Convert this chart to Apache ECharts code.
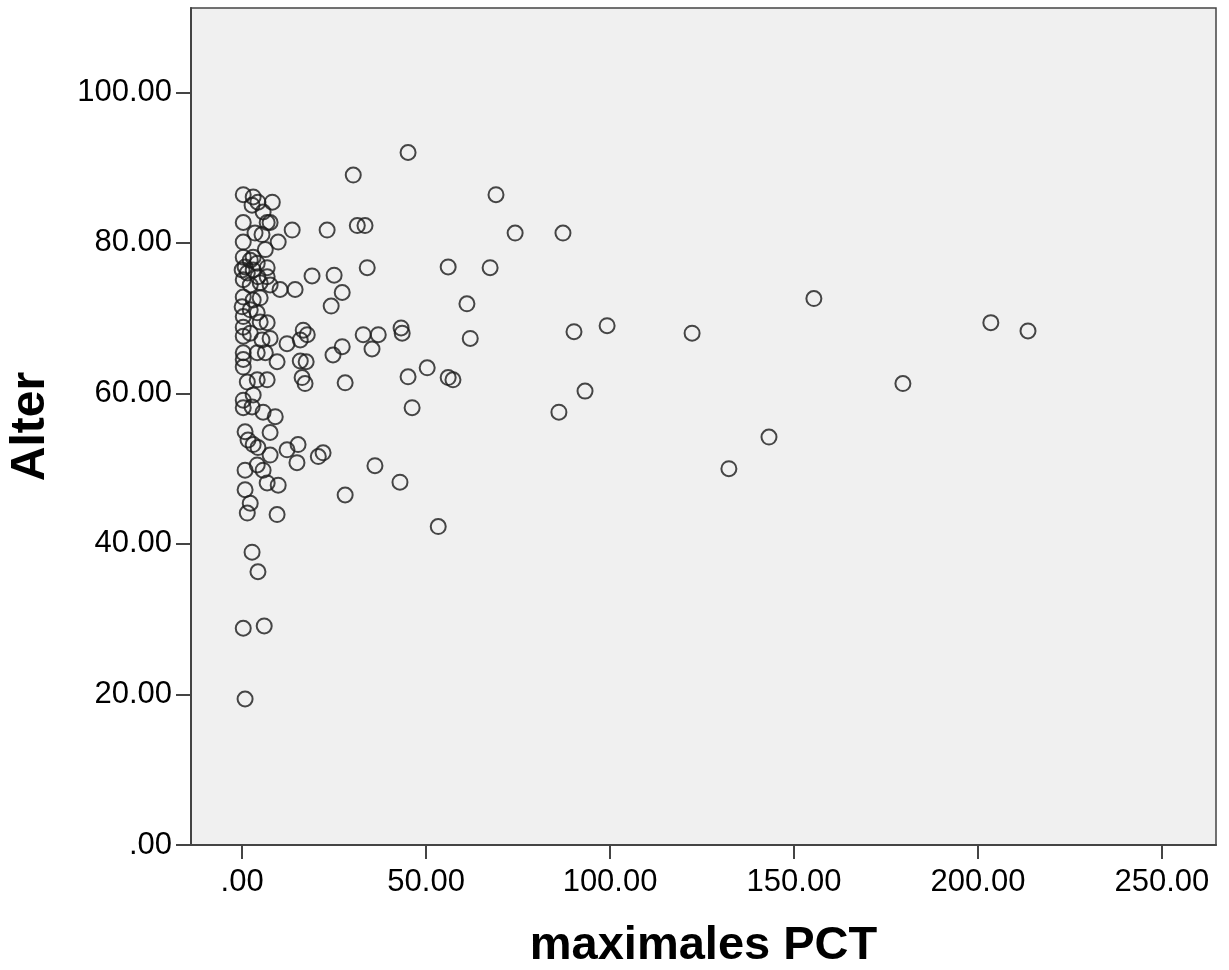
<!DOCTYPE html>
<html>
<head>
<meta charset="utf-8">
<script src="https://cdn.jsdelivr.net/npm/echarts@6/dist/echarts.min.js"></script>
<style>html,body{margin:0;padding:0;background:#fff;}#c{width:1229px;height:970px;}</style>
</head>
<body>
<div id="c"></div>
<script>
// maximales PCT (x) and Alter (y)
const pctValues = [
  0.3,3.0,4.3,2.7,8.2,5.7,0.3,6.8,7.6,13.6,3.5,5.4,0.3,9.8,6.3,0.3,3.0,2.2,0.8,4.1,
  6.8,0.0,1.4,3.0,4.3,19.0,6.8,0.3,2.2,4.9,10.3,14.4,7.6,0.3,3.0,4.9,0.0,2.2,4.1,0.3,
  4.9,6.8,0.3,16.6,17.7,15.8,2.2,5.4,7.6,0.3,12.2,0.3,0.3,0.3,4.1,6.3,9.5,15.8,17.4,1.4,
  4.1,6.8,16.3,17.1,3.0,0.3,0.3,2.7,5.7,9.0,7.6,0.8,1.6,3.0,4.3,7.6,12.2,15.2,14.9,0.8,
  4.1,5.7,6.8,9.8,0.8,2.2,1.4,9.5,2.7,4.3,0.3,6.0,0.8,
  45.1,30.2,31.3,33.4,23.1,34.0,56.0,67.4,25.0,27.2,24.2,61.1,32.9,37.0,43.2,43.5,62.0,27.2,24.7,35.3,
  28.0,45.1,50.3,56.0,57.3,46.2,22.0,20.7,36.1,42.9,28.0,53.3,
  69.0,74.2,87.2,90.2,99.2,122.3,155.4,203.5,213.6,179.6,93.2,86.1,143.2,132.3
];
const alterValues = [
  86.4,86.1,85.4,85.0,85.4,84.1,82.7,82.7,82.7,81.7,81.3,81.1,80.1,80.1,79.1,78.1,78.1,77.7,76.8,77.3,
  76.7,76.4,76.0,76.4,75.5,75.6,75.5,75.1,74.4,74.7,73.8,73.8,74.4,72.8,72.4,72.7,71.5,71.1,70.7,70.2,
  69.5,69.4,68.8,68.4,67.8,67.1,68.0,67.1,67.3,67.6,66.6,65.4,64.5,63.5,65.4,65.4,64.2,64.3,64.2,61.5,
  61.8,61.8,62.1,61.3,59.8,59.1,58.1,58.2,57.5,56.9,54.8,54.9,53.8,53.2,52.8,51.8,52.5,53.2,50.8,49.8,
  50.5,49.8,48.1,47.8,47.2,45.4,44.1,43.9,38.9,36.3,28.8,29.1,19.4,
  92.0,89.0,82.3,82.3,81.7,76.7,76.8,76.7,75.7,73.4,71.6,71.9,67.8,67.8,68.7,68.0,67.3,66.2,65.1,65.9,
  61.4,62.2,63.4,62.1,61.8,58.1,52.1,51.6,50.4,48.2,46.5,42.3,
  86.4,81.3,81.3,68.2,69.0,68.0,72.6,69.4,68.3,61.3,60.3,57.5,54.2,50.0
];
const xTicks = [0, 50, 100, 150, 200, 250];
const yTicks = [0, 20, 40, 60, 80, 100];
const xName = 'maximales PCT';
const yName = 'Alter';

const points = pctValues.map((v, i) => [v, alterValues[i]]);
const fmt = v => {
  const s = Number(v).toFixed(2);
  return s.startsWith('0.') ? s.slice(1) : s;
};
const chart = echarts.init(document.getElementById('c'), null, {renderer: 'canvas'});
const font = '"Liberation Sans", Arial, sans-serif';
chart.setOption({
  animation: false,
  backgroundColor: '#ffffff',
  grid: {
    left: 191, right: 13, top: 8, bottom: 125,
    containLabel: false, outerBoundsMode: 'none',
    show: true, backgroundColor: '#f0f0f0', borderColor: '#444', borderWidth: 1.5
  },
  xAxis: {
    type: 'value', min: -13.9, max: 264.7,
    name: xName, nameLocation: 'middle', nameGap: 78,
    nameTextStyle: {fontFamily: font, fontWeight: 'bold', fontSize: 47, color: '#000'},
    axisLine: {show: true, onZero: false, lineStyle: {color: '#444', width: 2}},
    axisTick: {show: true, customValues: xTicks, length: 14, inside: false, lineStyle: {color: '#444', width: 2}},
    axisLabel: {customValues: xTicks, formatter: fmt, margin: 22, fontFamily: font, fontSize: 31, color: '#000'},
    splitLine: {show: false}
  },
  yAxis: {
    type: 'value', min: 0, max: 111.2,
    name: yName, nameLocation: 'middle', nameGap: 136, nameRotate: 90,
    nameTextStyle: {fontFamily: font, fontWeight: 'bold', fontSize: 48, color: '#000'},
    axisLine: {show: true, onZero: false, lineStyle: {color: '#444', width: 2}},
    axisTick: {show: true, customValues: yTicks, length: 15, inside: false, lineStyle: {color: '#444', width: 2}},
    axisLabel: {customValues: yTicks, formatter: fmt, margin: 19, fontFamily: font, fontSize: 31, color: '#000'},
    splitLine: {show: false}
  },
  series: [{
    type: 'scatter',
    data: points,
    symbol: 'circle',
    symbolSize: 15,
    itemStyle: {color: 'rgba(0,0,0,0)', borderColor: '#1a1a1a', borderWidth: 2}
  }]
});
</script>
</body>
</html>
